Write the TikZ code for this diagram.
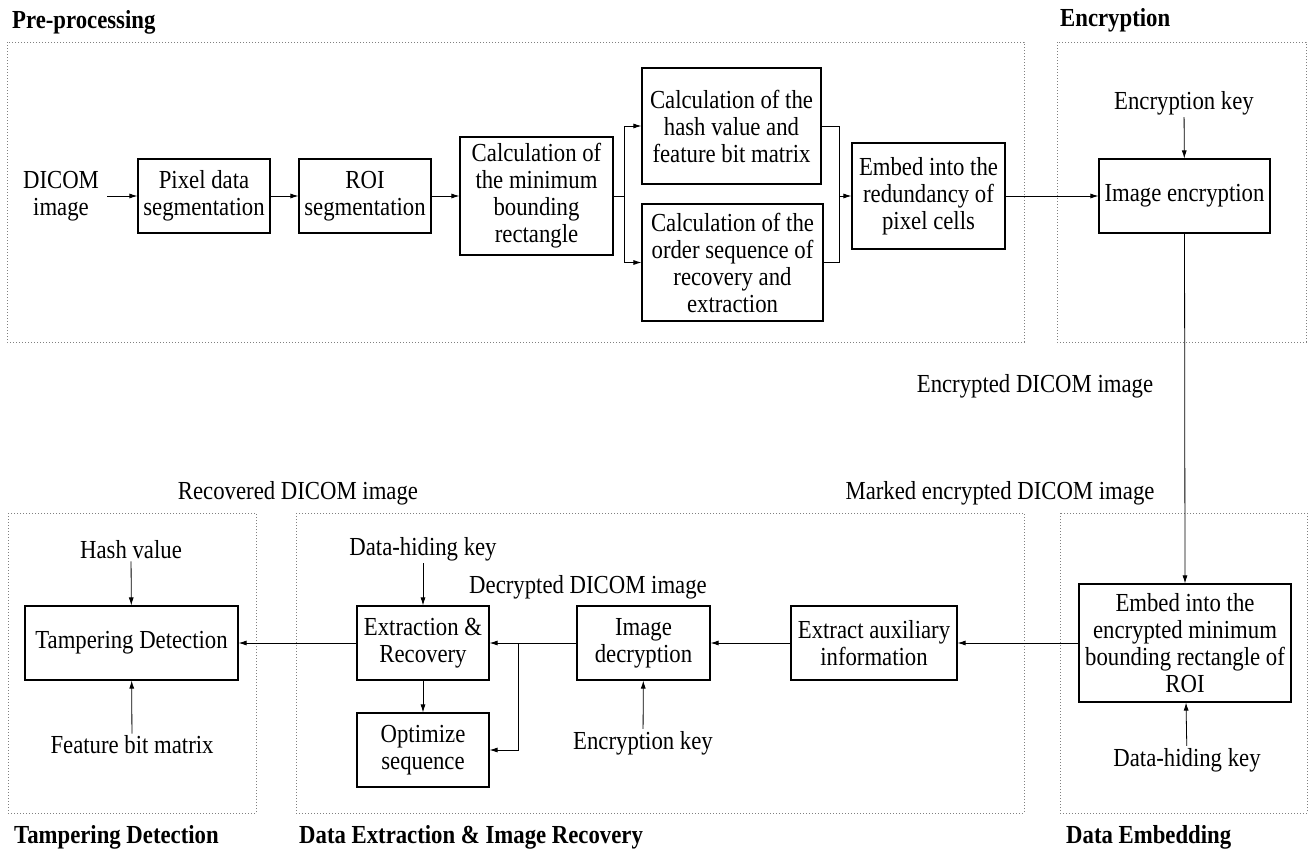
\documentclass[tikz,border=0pt]{standalone}
\usepackage{fontspec}
\setmainfont[FakeStretch=0.875]{Liberation Serif}
\usepackage{tikz}
\usetikzlibrary{arrows.meta}

\begin{document}
\begin{tikzpicture}[x=1pt,y=-1pt,every node/.style={font=\fontsize{26}{27}\selectfont}]
\tikzstyle{blk}=[rectangle,draw,line width=1.1pt,align=center,inner sep=2pt]
\tikzstyle{lbl}=[rectangle,align=center,inner sep=2pt]
\tikzstyle{ttl}=[rectangle,anchor=west,inner sep=0pt,font=\fontsize{26}{27}\selectfont\bfseries]
\tikzstyle{frm}=[draw=gray,line width=1pt,dash pattern=on 1pt off 2pt]
\tikzstyle{arr}=[line width=0.8pt,-{Latex[length=8pt,width=5pt]}]
\tikzstyle{ln}=[line width=0.8pt]
\useasboundingbox (0,0) rectangle (1309,852);
\draw [frm] (7,42) rectangle (1024,342);
\draw [frm] (1057,42) rectangle (1306,342);
\draw [frm] (8,513) rectangle (256,813);
\draw [frm] (296,513) rectangle (1024,813);
\draw [frm] (1060,513) rectangle (1307,813);
\node [ttl] (tpre) at (12,22) {Pre-processing};
\node [ttl] (tenc) at (1060,20) {Encryption};
\node [ttl] (ttamp) at (14,837) {Tampering Detection};
\node [ttl] (tdex) at (299,837) {Data Extraction \& Image Recovery};
\node [ttl] (temb) at (1066,837) {Data Embedding};
\node [lbl] (dicom) at (61,196) {DICOM\\image};
\node [blk,minimum width=132pt,minimum height=74pt] (pix) at (204,196) {Pixel data\\segmentation};
\node [blk,minimum width=132pt,minimum height=74pt] (roi) at (365,196) {ROI\\segmentation};
\node [blk,minimum width=153pt,minimum height=118pt] (mbr) at (536.5,196) {Calculation of\\the minimum\\bounding\\rectangle};
\node [blk,minimum width=179pt,minimum height=116pt] (hash) at (731.5,126) {Calculation of the\\hash value and\\feature bit matrix};
\node [blk,minimum width=181pt,minimum height=117pt] (order) at (732.5,262.5) {Calculation of the\\order sequence of\\recovery and\\extraction};
\node [blk,minimum width=153pt,minimum height=106pt] (red) at (928.5,196) {Embed into the\\redundancy of\\pixel cells};
\node [blk,minimum width=171pt,minimum height=74pt] (enc) at (1184.5,196) {Image encryption};
\node [lbl] (enckey) at (1184,103) {Encryption key};
\node [lbl] (encdicom) at (1035,386) {Encrypted DICOM image};
\node [lbl] (marked) at (1000,493) {Marked encrypted DICOM image};
\node [lbl] (recovered) at (298,493) {Recovered DICOM image};
\node [blk,minimum width=212pt,minimum height=118pt] (emb) at (1185,643) {Embed into the\\encrypted minimum\\bounding rectangle of\\ROI};
\node [lbl] (dhkb) at (1187,760) {Data-hiding key};
\node [blk,minimum width=166pt,minimum height=74pt] (aux) at (874,643) {Extract auxiliary\\information};
\node [blk,minimum width=133pt,minimum height=74pt] (dec) at (643.5,643) {Image\\decryption};
\node [lbl] (decrypted) at (588,587) {Decrypted DICOM image};
\node [lbl] (enckeyb) at (643,743) {Encryption key};
\node [blk,minimum width=132pt,minimum height=74pt] (ext) at (423,643) {Extraction \&\\Recovery};
\node [blk,minimum width=132pt,minimum height=74pt] (opt) at (423,750) {Optimize\\sequence};
\node [lbl] (dhka) at (423,549) {Data-hiding key};
\node [blk,minimum width=213pt,minimum height=74pt] (tamp) at (131.5,643) {Tampering Detection};
\node [lbl] (hashv) at (131,550) {Hash value};
\node [lbl] (feat) at (132,745) {Feature bit matrix};
\coordinate (sp) at (624,196);
\coordinate (mg) at (839,196);
\coordinate (br) at (518,643);
\draw [arr,shorten <=6pt] (dicom.east) -- (pix.west);
\draw [arr] (pix) -- (roi);
\draw [arr] (roi) -- (mbr);
\draw [ln] (mbr.east) -- (sp);
\draw [arr] (sp) |- (hash.west);
\draw [arr] (sp) |- (order.west);
\draw [ln] (hash.east) -| (mg);
\draw [ln] (order.east) -| (mg);
\draw [arr] (mg) -- (red.west);
\draw [arr] (red) -- (enc);
\draw [arr] (enckey) -- (enc);
\draw [arr] (enc.south) -- (emb.north);
\draw [arr] (dhkb) -- (emb);
\draw [arr] (emb) -- (aux);
\draw [arr] (aux) -- (dec);
\draw [arr] (enckeyb) -- (dec);
\draw [ln] (dec.west) -- (br);
\draw [arr] (br) -- (ext.east);
\draw [arr] (br) |- (opt.east);
\draw [arr] (ext) -- (opt);
\draw [arr] (dhka) -- (ext);
\draw [arr] (ext) -- (tamp);
\draw [arr] (hashv) -- (tamp);
\draw [arr] (feat) -- (tamp);
\end{tikzpicture}
\end{document}
